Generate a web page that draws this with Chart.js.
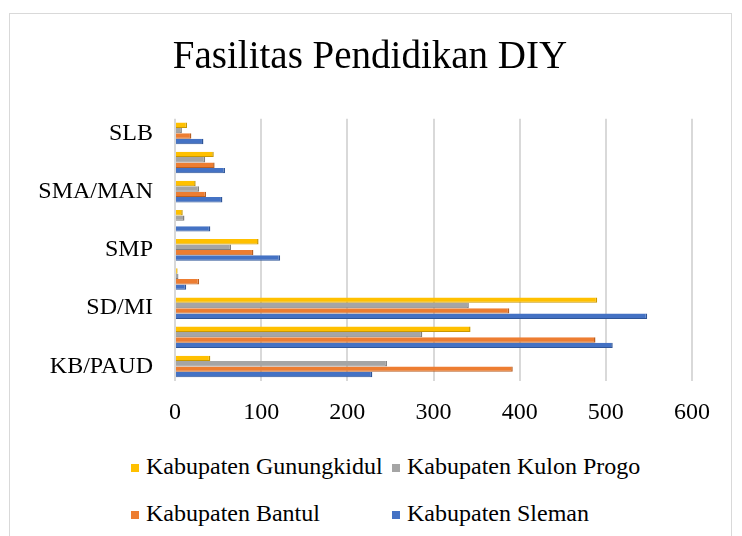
<!DOCTYPE html>
<html>
<head>
<meta charset="utf-8">
<script src="https://cdn.jsdelivr.net/npm/chart.js@4.4.1/dist/chart.umd.min.js"></script>
<style>
  body { margin: 0; background: #fff; }
  #wrap { position: relative; width: 742px; height: 536px; overflow: hidden; }
  #frame { position: absolute; left: 9px; top: 13px; width: 723px; height: 540px; border: 1px solid #d9d9d9; box-sizing: border-box; }
  #chart { position: absolute; left: 0; top: 0; }
  .leg { position: absolute; font-family: 'Times New Roman', 'Liberation Serif', serif; font-size: 24px; color: #000; white-space: nowrap; line-height: 28px; }
  .leg span.box { display: inline-block; width: 8px; height: 8px; margin-right: 7px; vertical-align: 2px; }
</style>
</head>
<body>
<div id="wrap">
  <div id="frame"></div>
  <canvas id="chart" width="742" height="440"></canvas>
  <div id="legend"></div>
</div>
<script>
var categories = ['KB/PAUD', 'TK/RA', 'SD/MI', 'Kejar Paket', 'SMP', 'MTs', 'SMA/MAN', 'SMK', 'SLB'];
var gunungkidul = [41, 343, 490, 3, 97, 9, 24, 45, 14];
var kulonProgo = [246, 287, 341, 4, 65, 11, 28, 35, 8];
var bantul = [392, 488, 388, 28, 91, 1, 36, 46, 19];
var sleman = [229, 508, 548, 13, 122, 41, 55, 58, 33];
var xTicks = [0, 100, 200, 300, 400, 500, 600];

var seriesNames = ['Kabupaten Gunungkidul', 'Kabupaten Kulon Progo', 'Kabupaten Bantul', 'Kabupaten Sleman'];
var seriesColors = ['#FFC000', '#A5A5A5', '#ED7D31', '#4472C4'];
var edgeColors = ['#C99700', '#7F7F7F', '#B85F22', '#2F5597'];
var seriesData = [gunungkidul, kulonProgo, bantul, sleman];

var serif = "'Times New Roman', 'Liberation Serif', serif";

function make_datasets() {
    var sets = [];
    for (var i = 0; i < seriesNames.length; i++) {
        sets.push({
            label: seriesNames[i],
            data: seriesData[i],
            backgroundColor: seriesColors[i],
            borderColor: edgeColors[i],
            borderWidth: {top: 0, left: 0, right: 1.5, bottom: 1},
            borderSkipped: false,
            categoryPercentage: 0.74,
            barPercentage: 1
        });
    }
    return sets;
}

var ctx = document.getElementById('chart').getContext('2d');
var myChart = new Chart(ctx, {
    type: 'bar',
    data: { labels: categories, datasets: make_datasets() },
    options: {
        indexAxis: 'y',
        responsive: false,
        animation: false,
        layout: { padding: { left: 10, right: 12, top: 0, bottom: 0 } },
        plugins: {
            legend: { display: false },
            tooltip: { enabled: false },
            title: {
                display: true,
                text: 'Fasilitas Pendidikan DIY',
                color: '#000',
                font: { family: serif, size: 39, weight: 'normal' },
                padding: { top: 34, bottom: 38 }
            }
        },
        scales: {
            x: {
                min: 0,
                max: 600,
                afterBuildTicks: function (s) { s.ticks = xTicks.map(function (v) { return { value: v }; }); },
                afterFit: function (s) { s.height = 59; },
                grid: { color: '#d9d9d9', lineWidth: 2, drawTicks: false },
                border: { display: false },
                ticks: { color: '#000', padding: 17, font: { family: serif, size: 24 } }
            },
            y: {
                reverse: true,
                afterFit: function (s) { s.width = 165; },
                grid: { display: false, drawTicks: false },
                border: { display: false },
                ticks: {
                    autoSkip: false,
                    color: '#000',
                    padding: 22,
                    font: { family: serif, size: 24 },
                    callback: function (v, i) { return i % 2 === 0 ? categories[i] : ''; }
                }
            },
            // empty right margin so the title centres like the original
            yRight: {
                type: 'linear',
                position: 'right',
                afterFit: function (s) { s.width = 38; },
                grid: { display: false, drawTicks: false },
                border: { display: false },
                ticks: { display: false }
            }
        }
    }
});

// legend laid out in two columns, like the office chart
var legendPos = [[131, 452], [392, 452], [131, 499], [392, 499]];
var legendEl = document.getElementById('legend');
myChart.data.datasets.forEach(function (ds, i) {
    var d = document.createElement('div');
    d.className = 'leg';
    d.style.left = legendPos[i][0] + 'px';
    d.style.top = legendPos[i][1] + 'px';
    d.innerHTML = '<span class="box" style="background:' + ds.backgroundColor + '"></span>' + ds.label;
    legendEl.appendChild(d);
});
</script>
</body>
</html>
